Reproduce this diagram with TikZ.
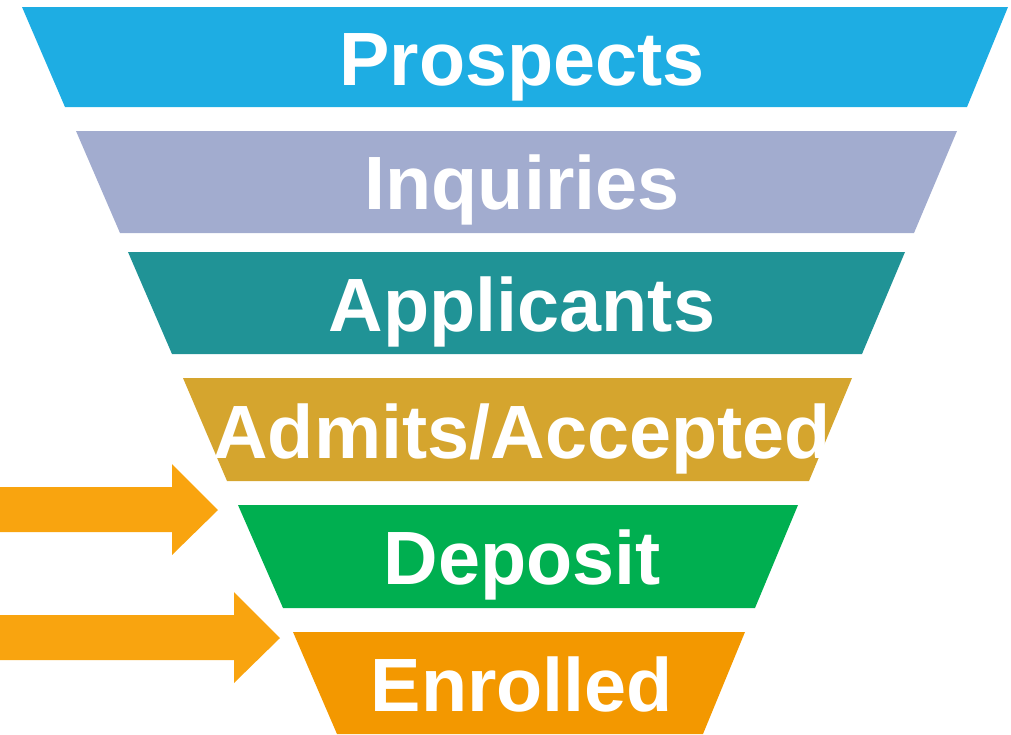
\documentclass[tikz,border=0pt]{standalone}
\usepackage{fontspec}
\setmainfont{Liberation Sans}

\definecolor{prospectblue}{HTML}{1EADE3}
\definecolor{inquirylilac}{HTML}{A2ACCF}
\definecolor{applicantteal}{HTML}{209396}
\definecolor{admitgold}{HTML}{D5A52E}
\definecolor{depositgreen}{HTML}{00AF50}
\definecolor{enrolledorange}{HTML}{F39800}
\definecolor{arroworange}{HTML}{F9A40F}

\tikzset{
	stagelabel/.style={font=\bfseries\fontsize{43}{47}\selectfont, text=white, anchor=base, inner sep=0pt},
	pusharrow/.style={fill=arroworange}
}

\begin{document}
\begin{tikzpicture}[x=0.02cm, y=-0.02cm]
	\useasboundingbox (0,0) rectangle (1011,734);
	% funnel layers
	\fill[prospectblue] (22,7) -- (1008,7) -- (967,107) -- (65,107) -- cycle;
	\fill[inquirylilac] (76,131) -- (957,131) -- (914,233) -- (120,233) -- cycle;
	\fill[applicantteal] (128,252) -- (905,252) -- (862,354) -- (172,354) -- cycle;
	\fill[admitgold] (183,378) -- (852,378) -- (809,481) -- (227,481) -- cycle;
	\fill[depositgreen] (238,505) -- (798,505) -- (755,608) -- (283,608) -- cycle;
	\fill[enrolledorange] (293,632) -- (745,632) -- (703,734) -- (337,734) -- cycle;
	% labels
	\node[stagelabel] (prospects) at (522,85) {Prospects};
	\node[stagelabel] (inquiries) at (522,209) {Inquiries};
	\node[stagelabel] (applicants) at (522,331) {Applicants};
	\node[stagelabel] (admits) at (522,458) {Admits/Accepted};
	\node[stagelabel] (deposit) at (522,584) {Deposit};
	\node[stagelabel] (enrolled) at (522,711) {Enrolled};
	% arrows
	\fill[pusharrow] (0,487) -- (172,487) -- (172,464) -- (218,510) -- (172,555) -- (172,532) -- (0,532) -- cycle;
	\fill[pusharrow] (0,615) -- (234,615) -- (234,592) -- (280,638) -- (234,683) -- (234,660) -- (0,660) -- cycle;
\end{tikzpicture}
\end{document}
